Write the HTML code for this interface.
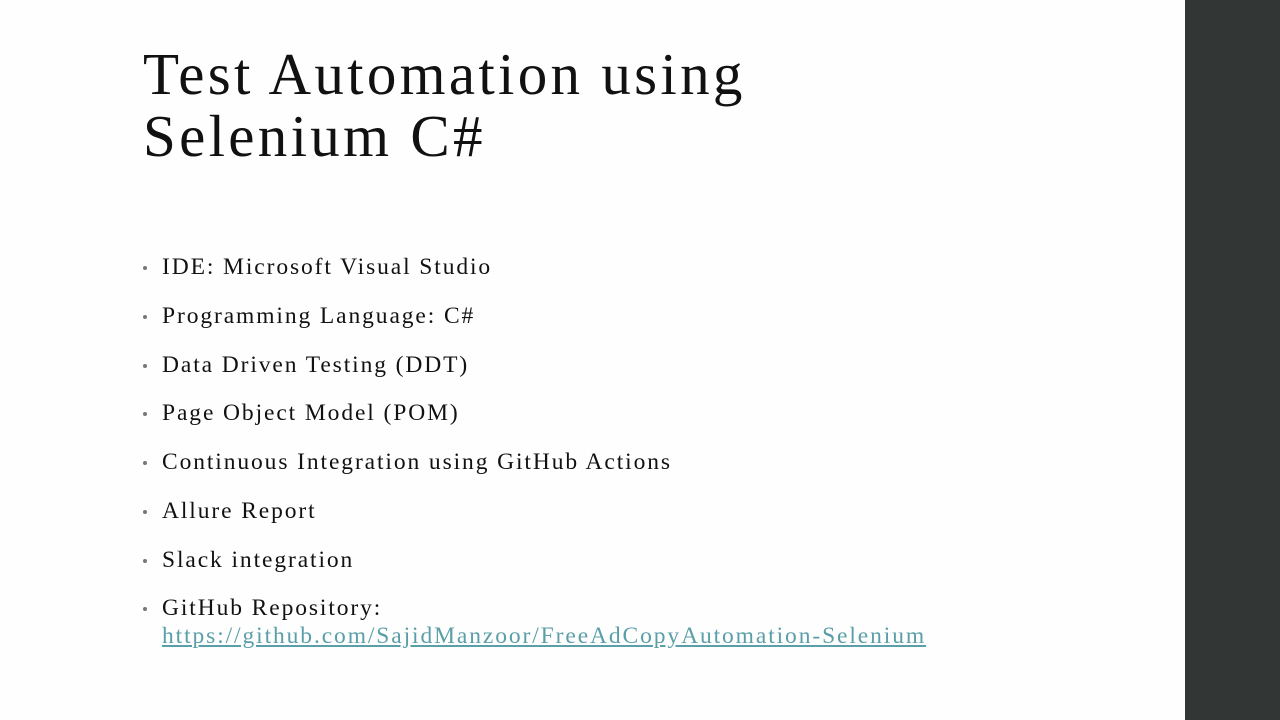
<!DOCTYPE html>
<html><head><meta charset="utf-8"><style>
html,body{margin:0;padding:0}
body{width:1280px;height:720px;background:#fefefe;position:relative;overflow:hidden;font-family:"Liberation Serif",serif;color:#111}
.bar{position:absolute;left:1185px;top:0;width:95px;height:720px;background:#323735}
.title{position:absolute;left:143px;top:43px;font-size:59px;line-height:62px;letter-spacing:3.3px;white-space:nowrap}
.b{position:absolute;left:162px;font-size:23.5px;letter-spacing:1.9px;white-space:nowrap;line-height:28px}
.b:before{content:"";position:absolute;left:-19px;top:13px;width:4px;height:4px;border-radius:50%;background:#777}
a{color:#5a9fa8;text-decoration:underline}
</style></head><body>
<div class="bar"></div>
<div class="title">Test Automation using<br>Selenium C#</div>
<div class="b" style="top:253px">IDE: Microsoft Visual Studio</div>
<div class="b" style="top:302px">Programming Language: C#</div>
<div class="b" style="top:351px">Data Driven Testing (DDT)</div>
<div class="b" style="top:399px">Page Object Model (POM)</div>
<div class="b" style="top:448px">Continuous Integration using GitHub Actions</div>
<div class="b" style="top:497px">Allure Report</div>
<div class="b" style="top:546px">Slack integration</div>
<div class="b" style="top:594px">GitHub Repository:<br><a>https://github.com/SajidManzoor/FreeAdCopyAutomation-Selenium</a></div>
</body></html>
